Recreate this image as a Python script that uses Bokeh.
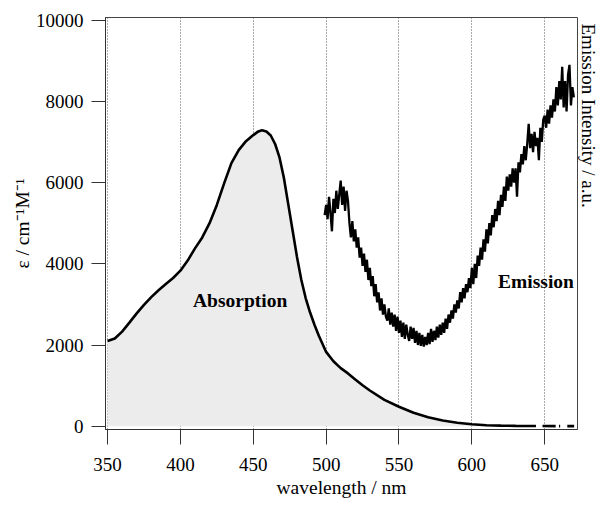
import math
from bokeh.plotting import figure
from bokeh.models import Label, FixedTicker, Range1d, Title
from bokeh.embed import file_html
from bokeh.resources import INLINE

nan = float("nan")

# Absorption spectrum (wavelength / nm, epsilon / cm-1 M-1); NaN = gaps in the trace tail
abs_wl = [350, 355, 360, 365, 370, 375, 380, 385, 390, 395, 400, 405, 410, 415, 420,
          425, 430, 435, 440, 445, 450, 453, 456, 459, 462, 465, 468, 471, 474, 477,
          480, 483, 486, 489, 492, 495, 500, 505, 510, 515, 520, 525, 530, 540, 550,
          560, 570, 580, 590, 600, 610, 620, 630, 644,
          nan, 648.5, 657.5, nan, 659.8, 660.6, nan, 665.5, 670.2]
abs_eps = [2100, 2160, 2330, 2550, 2780, 2990, 3180, 3350, 3500, 3650, 3830, 4080, 4380, 4650, 5000,
           5450, 5980, 6480, 6800, 7020, 7170, 7250, 7290, 7260, 7160, 6950, 6620, 6120, 5470, 4820,
           4170, 3600, 3150, 2800, 2500, 2230, 1830, 1600, 1430, 1300, 1150, 1010, 880, 650, 480,
           330, 220, 140, 85, 50, 25, 15, 8, 5,
           nan, 4, 3, nan, 3, 3, nan, 3, 3]

# Emission spectrum (arbitrary units, plotted on the same scale), 499..670 nm
em_wl = list(range(499, 671))
em_int = [5200, 5450, 5100, 5650, 5250, 4800, 5600, 5250, 5800, 5350, 5700,
          6050, 5450, 5900, 5300, 5800, 5550, 5000, 4650, 5050, 4550,
          4850, 4400, 4650, 4150, 4400, 3950, 4250, 3800, 4100, 3600,
          3900, 3450, 3700, 3200, 3500, 3050, 3300, 2850, 3150, 2750,
          3000, 2700, 2600, 2900, 2500, 2800, 2450, 2750, 2350, 2700,
          2300, 2600, 2200, 2550, 2150, 2500, 2250, 2100, 2450, 2150,
          2420, 2050, 2350, 2000, 2300, 1980, 2250, 1960, 2200, 2000,
          2300, 2020, 2400, 2080, 2350, 2120, 2450, 2180, 2500, 2250,
          2550, 2300, 2650, 2400, 2750, 2550, 2850, 2650, 3000, 2800,
          3100, 2900, 3300, 3050, 3400, 3150, 3500, 3300, 3650, 3400,
          3900, 3500, 4000, 3650, 4200, 3950, 4400, 4100, 4600, 4300,
          4850, 4500, 5000, 4700, 5200, 4900, 5350, 5050, 5550, 5200,
          5700, 5400, 5900, 5550, 6150, 5800, 6200, 5900, 6350, 6000,
          6350, 5650, 6500, 6250, 6700, 6450, 6900, 6550, 6950, 7450,
          6850, 7200, 6750, 7250, 6900, 7100, 6550, 7350, 7000, 7550,
          7650, 7350, 7800, 7450, 7900, 7600, 8050, 7750, 8350, 7900,
          8500, 8050, 8850, 7850, 8500, 7750, 8650, 8900, 7900, 8350,
          8100]

x_ticks = [350, 400, 450, 500, 550, 600, 650]
y_ticks = [0, 2000, 4000, 6000, 8000, 10000]

x_label = "wavelength / nm"
y_label = "\u03b5 / cm\u207b\u00b9M\u207b\u00b9"
right_label = "Emission Intensity / a.u."

FONT = "Liberation Serif"

p = figure(width=600, height=500, output_backend="svg", toolbar_location=None,
           x_range=Range1d(348.6, 672.5), y_range=Range1d(-81, 10066),
           min_border_left=105, min_border_right=22, min_border_top=17,
           min_border_bottom=69)

p.background_fill_color = "white"
p.border_fill_color = "white"
p.outline_line_color = "#444444"
p.outline_line_width = 1

# grid: dotted vertical lines only
p.ygrid.visible = False
p.xgrid.ticker = FixedTicker(ticks=x_ticks)
p.xgrid.grid_line_color = "#555555"
p.xgrid.grid_line_dash = "1 2"
p.xgrid.grid_line_width = 1

for ax, ticks in ((p.xaxis, x_ticks), (p.yaxis, y_ticks)):
    ax.ticker = FixedTicker(ticks=ticks)
    ax.minor_tick_line_color = None
    ax.major_tick_in = 0
    ax.major_tick_line_color = "#333333"
    ax.axis_line_color = "#333333"
    ax.major_label_text_font = FONT
    ax.major_label_text_font_size = "19px"
    ax.major_label_text_color = "black"
    ax.axis_label_text_font = FONT
    ax.axis_label_text_font_size = "19.5px"
    ax.axis_label_text_font_style = "normal"
    ax.axis_label_text_color = "black"

p.xaxis.axis_label = x_label
p.yaxis.axis_label = y_label
p.xaxis.major_tick_out = 15
p.yaxis.major_tick_out = 14
p.xaxis.major_label_standoff = 13
p.yaxis.major_label_standoff = 8
p.xaxis.axis_label_standoff = 3
p.yaxis.axis_label_standoff = 0

# absorption fill + line
fill_wl = [w for w, e in zip(abs_wl, abs_eps) if not math.isnan(e)]
fill_eps = [e for e in abs_eps if not math.isnan(e)]
p.varea(x=fill_wl, y1=[0] * len(fill_wl), y2=fill_eps, fill_color="#ececec")
p.line(abs_wl, abs_eps, line_color="black", line_width=2.6)

# emission
p.line(em_wl, em_int, line_color="black", line_width=2.3)

p.add_layout(Label(x=441, y=3100, text="Absorption", text_font=FONT,
                   text_font_size="19.5px", text_font_style="bold", text_color="black",
                   text_align="center", text_baseline="middle"))
p.add_layout(Label(x=644, y=3570, text="Emission", text_font=FONT,
                   text_font_size="19.5px", text_font_style="bold", text_color="black",
                   text_align="center", text_baseline="middle"))

rt = Title(text=right_label, align="left", offset=6, standoff=0,
           text_font=FONT, text_font_size="19px", text_font_style="normal",
           text_color="black")
p.add_layout(rt, "right")

open("out.html", "w").write(file_html(p, INLINE))
